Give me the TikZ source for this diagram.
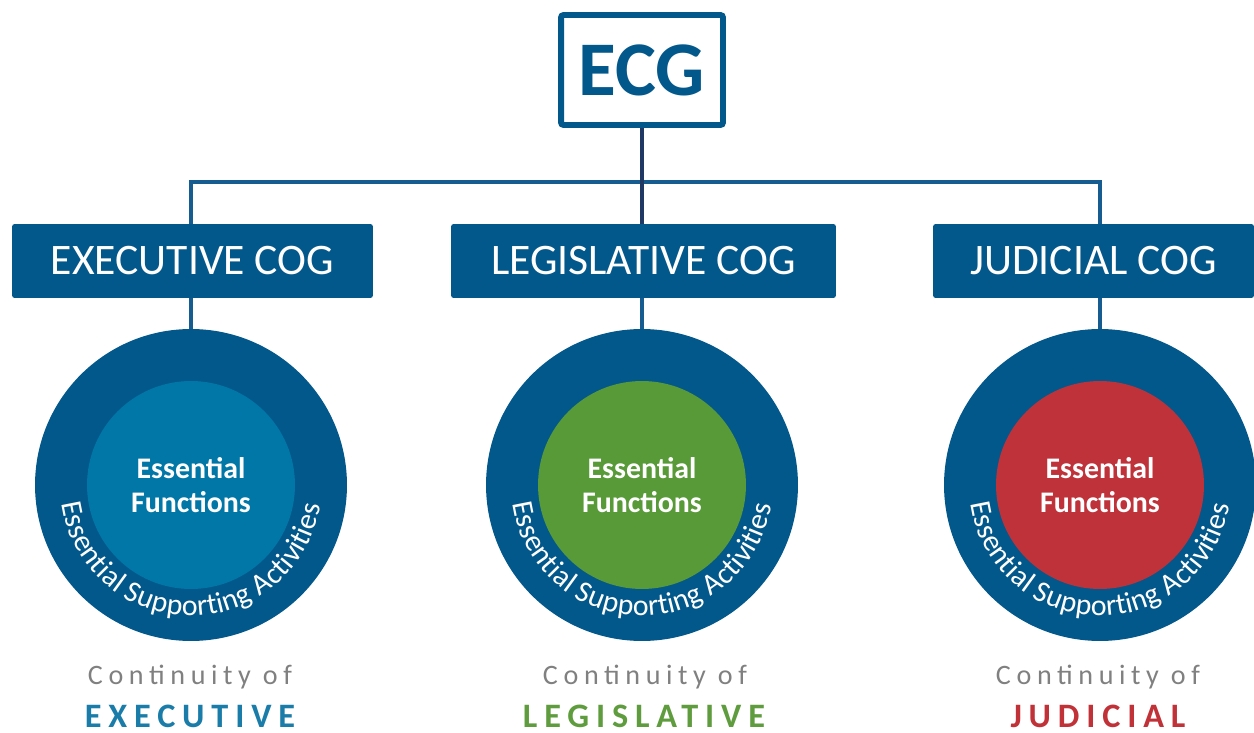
\documentclass[tikz,border=0pt]{standalone}
\usepackage{fontspec}
\setmainfont{Carlito}
\newfontfamily\spaced[LetterSpace=20]{Carlito}
\usetikzlibrary{decorations.text}

\definecolor{cogblue}{RGB}{3,88,139}
\definecolor{linkblue}{RGB}{22,92,145}
\definecolor{linknavy}{RGB}{31,56,100}
\definecolor{execteal}{RGB}{1,119,167}
\definecolor{legisgreen}{RGB}{88,153,56}
\definecolor{judired}{RGB}{191,50,58}
\definecolor{exectext}{RGB}{26,124,168}
\definecolor{legistext}{RGB}{94,156,62}
\definecolor{juditext}{RGB}{192,50,56}
\definecolor{contgray}{RGB}{128,128,128}

\tikzset{
  link/.style={draw=linkblue, line width=2.3pt},
  cogbox/.style={fill=cogblue, text=white, rounded corners=1.5pt, minimum height=1.48cm,
    inner sep=0pt, font=\fontsize{24.8}{30}\selectfont},
  ring/.style={circle, fill=cogblue, minimum size=6.24cm, inner sep=0pt},
  core/.style={circle, minimum size=4.16cm, inner sep=0pt, text=white, align=center,
    font=\bfseries\fontsize{17}{19.8}\selectfont},
  contof/.style={anchor=base, text=contgray, font=\spaced\fontsize{16}{18}\selectfont},
  branch/.style={anchor=base, font=\spaced\bfseries\fontsize{19.5}{22}\selectfont},
}

\newcommand\supportarc[1]{%
  \path[decorate, decoration={text effects along path, text={Essential Supporting Activities},
      text effects/.cd, text along path, fit text to path,
      characters={text=white, font=\fontsize{17}{19}\selectfont}}]
    (#1.center) ++(188:2.62cm) arc[start angle=188, end angle=351, radius=2.62cm];}

\begin{document}
\begin{tikzpicture}[x=0.02cm, y=0.02cm]
\useasboundingbox (0,0) rectangle (1254,-733);

\node[draw=cogblue, line width=3.4pt, fill=white, rounded corners=1.5pt, minimum width=3.24cm,
  minimum height=2.2cm, inner sep=0pt, text=cogblue, font=\bfseries\fontsize{44}{48}\selectfont]
  at (642,-70) (ECG) {ECG};

\node[cogbox, minimum width=7.22cm] at (192.5,-261) (EX) {EXECUTIVE COG};
\node[cogbox, minimum width=7.7cm] at (643.5,-261) (LE) {LEGISLATIVE COG};
\node[cogbox, minimum width=6.42cm] at (1093.5,-261) (JU) {JUDICIAL COG};

\coordinate (hl) at (191,-182);
\coordinate (hr) at (1100,-182);
\draw[link] (EX.north -| hl) -- (hl) -- (hr) -- (hr |- JU.north);
\draw[link, draw=linknavy] (ECG.south) -- (ECG.south |- LE.north);

\node[ring] at (191,-485) (EXo) {};
\node[ring] at (642,-485) (LEo) {};
\node[ring] at (1100,-485) (JUo) {};
\draw[link] (EX.south -| EXo) -- (EXo.north);
\draw[link] (LE.south -| LEo) -- (LEo.north);
\draw[link] (JU.south -| JUo) -- (JUo.north);

\node[core, fill=execteal] at (EXo) (EXi) {Essential\\Functions};
\node[core, fill=legisgreen] at (LEo) (LEi) {Essential\\Functions};
\node[core, fill=judired] at (JUo) (JUi) {Essential\\Functions};

\supportarc{EXo}
\supportarc{LEo}
\supportarc{JUo}

\node[contof] at (190,-684) (EXc) {Continuity of};
\node[contof] at (645,-684) (LEc) {Continuity of};
\node[contof] at (1098,-684) (JUc) {Continuity of};
\node[branch, text=exectext] at (190,-727) (EXt) {EXECUTIVE};
\node[branch, text=legistext] at (644,-727) (LEt) {LEGISLATIVE};
\node[branch, text=juditext] at (1098,-727) (JUt) {JUDICIAL};

\end{tikzpicture}
\end{document}
